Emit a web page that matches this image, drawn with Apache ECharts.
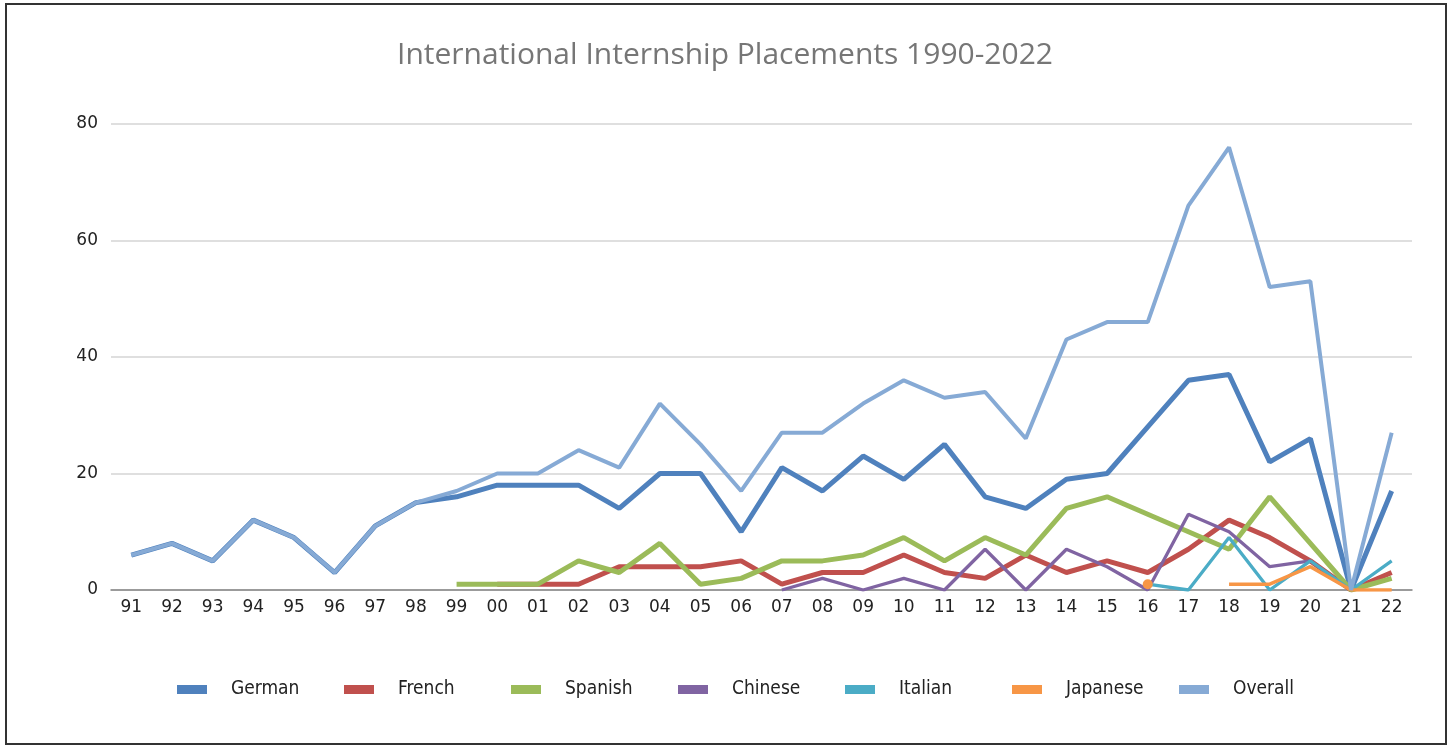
<!DOCTYPE html>
<html>
<head>
<meta charset="utf-8">
<script src="https://cdn.jsdelivr.net/npm/echarts@6/dist/echarts.min.js"></script>
<style>
  html, body { margin: 0; padding: 0; background: #fff; }
  #main { width: 1450px; height: 746px; }
</style>
</head>
<body>
<div id="main"></div>
<script>
// two-digit year labels, 1991 - 2022
const years = ['91', '92', '93', '94', '95', '96', '97', '98', '99', '00', '01', '02', '03', '04', '05', '06',
  '07', '08', '09', '10', '11', '12', '13', '14', '15', '16', '17', '18', '19', '20', '21', '22'];

const german = [6, 8, 5, 12, 9, 3, 11, 15, 16, 18, 18, 18, 14, 20, 20, 10,
  21, 17, 23, 19, 25, 16, 14, 19, 20, 28, 36, 37, 22, 26, 0, 17];
const french = [null, null, null, null, null, null, null, null, null, 1, 1, 1, 4, 4, 4, 5,
  1, 3, 3, 6, 3, 2, 6, 3, 5, 3, 7, 12, 9, 5, 0, 3];
const spanish = [null, null, null, null, null, null, null, null, 1, 1, 1, 5, 3, 8, 1, 2,
  5, 5, 6, 9, 5, 9, 6, 14, 16, 13, 10, 7, 16, 8, 0, 2];
const chinese = [null, null, null, null, null, null, null, null, null, null, null, null, null, null, null, null,
  0, 2, 0, 2, 0, 7, 0, 7, 4, 0, 13, 10, 4, 5, null, null];
const italian = [null, null, null, null, null, null, null, null, null, null, null, null, null, null, null, null,
  null, null, null, null, null, null, null, null, null, 1, 0, 9, 0, 5, 0, 5];
const japanese = [null, null, null, null, null, null, null, null, null, null, null, null, null, null, null, null,
  null, null, null, null, null, null, null, null, null, 1, null, 1, 1, 4, 0, 0];
const overall = [6, 8, 5, 12, 9, 3, 11, 15, 17, 20, 20, 24, 21, 32, 25, 17,
  27, 27, 32, 36, 33, 34, 26, 43, 46, 46, 66, 76, 52, 53, 0, 27];

const names = ['German', 'French', 'Spanish', 'Chinese', 'Italian', 'Japanese', 'Overall'];
const colors = ['#4f81bd', '#c0504d', '#9bbb59', '#8064a2', '#4bacc6', '#f79646', '#86aad5'];

const chart = echarts.init(document.getElementById('main'));

function lineSeries(name, data, color, width) {
  return {
    name: name,
    type: 'line',
    data: data,
    color: color,
    symbol: 'none',
    showSymbol: true,
    lineStyle: { width: width, color: color },
    itemStyle: { color: color }
  };
}

// a lone Japanese point (2016) shows as a dot, since its neighbours are empty
const japaneseData = japanese.map((v, i) => {
  const lone = v != null && japanese[i - 1] == null && japanese[i + 1] == null;
  return lone ? { value: v, symbol: 'circle', symbolSize: 10 } : v;
});

// one legend per series so the entries sit on an even step like the original
const legends = names.map((n, i) => ({
  data: [n],
  left: 172 + i * 167,
  top: 675,
  icon: 'rect',
  itemWidth: 30,
  itemHeight: 9,
  itemGap: 0,
  textStyle: {
    fontFamily: 'DejaVu Sans Condensed',
    fontSize: 19,
    color: '#222',
    padding: [0, 0, 0, 19]
  }
}));

const option = {
  animation: false,
  backgroundColor: '#ffffff',
  title: {
    text: 'International Internship Placements 1990-2022',
    left: 'center',
    top: 35,
    textStyle: {
      fontFamily: 'Open Sans',
      fontSize: 30,
      fontWeight: 'normal',
      color: '#767676'
    }
  },
  graphic: [{
    type: 'rect',
    shape: { x: 6, y: 4, width: 1440, height: 740 },
    style: { fill: null, stroke: '#333', lineWidth: 2 },
    silent: true
  }],
  legend: legends,
  grid: {
    left: 111,
    right: 38,
    top: 124,
    bottom: 156
  },
  xAxis: {
    type: 'category',
    data: years,
    axisLine: { lineStyle: { color: '#858585', width: 1.5 } },
    axisTick: { show: false },
    axisLabel: {
      fontFamily: 'DejaVu Sans',
      fontSize: 17,
      color: '#222',
      margin: 9,
      interval: 0
    }
  },
  yAxis: {
    type: 'value',
    min: 0,
    max: 80,
    interval: 20,
    axisLine: { show: false },
    axisTick: { show: false },
    splitLine: { lineStyle: { color: '#d4d4d4', width: 1.5 } },
    axisLabel: {
      fontFamily: 'DejaVu Sans',
      fontSize: 17,
      color: '#222',
      margin: 13
    }
  },
  series: [
    lineSeries(names[0], german, colors[0], 5),
    lineSeries(names[1], french, colors[1], 5),
    lineSeries(names[2], spanish, colors[2], 5),
    lineSeries(names[3], chinese, colors[3], 3.3),
    lineSeries(names[4], italian, colors[4], 3.3),
    lineSeries(names[5], japaneseData, colors[5], 3.5),
    lineSeries(names[6], overall, colors[6], 4)
  ]
};

chart.setOption(option);
</script>
</body>
</html>
